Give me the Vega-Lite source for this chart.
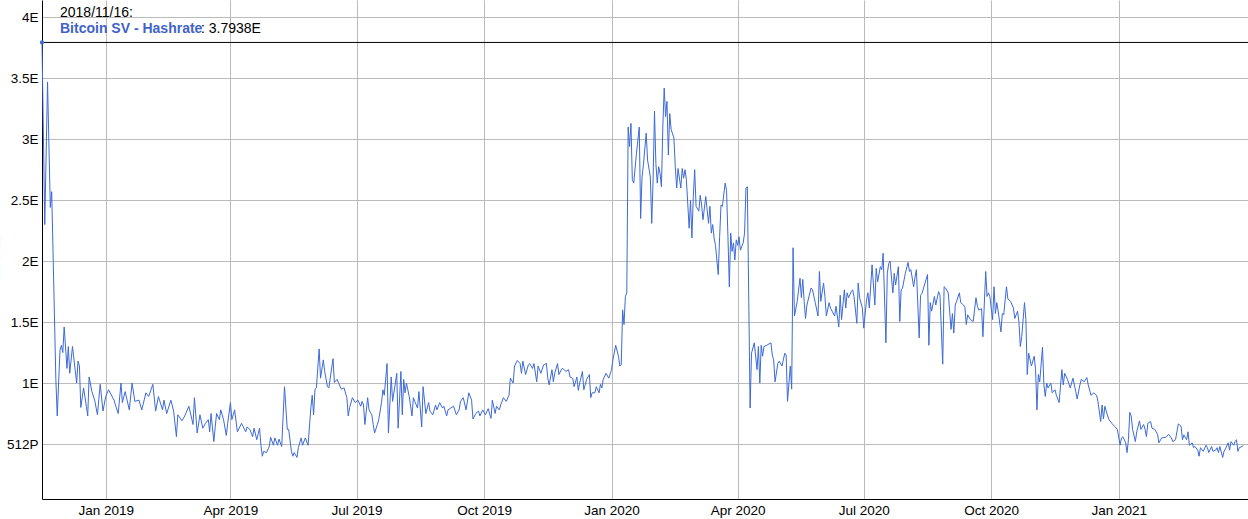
{
"$schema": "https://vega.github.io/schema/vega-lite/v6.json",
"width": 1206, "height": 499,
"autosize": {"type": "none"},
"padding": {"left": 42, "top": 0, "right": 0, "bottom": 20},
"background": "white",
"config": {"view": {"stroke": null}, "font": "Liberation Sans"},
"datasets": {
"series": [
{"date":"2018-11-16","hashrate":3.79},{"date":"2018-11-18","hashrate":2.30},{"date":"2018-11-20","hashrate":3.47},{"date":"2018-11-22","hashrate":2.44},{"date":"2018-11-23","hashrate":2.57},{"date":"2018-11-26","hashrate":1.03},{"date":"2018-11-27","hashrate":0.73},{"date":"2018-11-29","hashrate":1.27},{"date":"2018-11-30","hashrate":1.31},
{"date":"2018-12-01","hashrate":1.25},{"date":"2018-12-02","hashrate":1.46},{"date":"2018-12-04","hashrate":1.12},{"date":"2018-12-05","hashrate":1.30},{"date":"2018-12-06","hashrate":1.08},{"date":"2018-12-08","hashrate":1.30},{"date":"2018-12-11","hashrate":1.00},{"date":"2018-12-12","hashrate":1.18},{"date":"2018-12-13","hashrate":1.14},{"date":"2018-12-14","hashrate":0.80},{"date":"2018-12-16","hashrate":0.96},{"date":"2018-12-18","hashrate":0.81},{"date":"2018-12-19","hashrate":0.73},{"date":"2018-12-20","hashrate":1.05},{"date":"2018-12-22","hashrate":0.93},{"date":"2018-12-24","hashrate":0.86},{"date":"2018-12-26","hashrate":0.74},{"date":"2018-12-28","hashrate":0.99},{"date":"2018-12-30","hashrate":0.77},
{"date":"2019-01-01","hashrate":0.89},{"date":"2019-01-03","hashrate":0.945},{"date":"2019-01-07","hashrate":0.86},{"date":"2019-01-08","hashrate":0.82},{"date":"2019-01-10","hashrate":0.75},{"date":"2019-01-12","hashrate":1.00},{"date":"2019-01-13","hashrate":0.84},{"date":"2019-01-15","hashrate":0.93},{"date":"2019-01-18","hashrate":0.78},{"date":"2019-01-20","hashrate":1.00},{"date":"2019-01-22","hashrate":0.85},{"date":"2019-01-25","hashrate":0.86},{"date":"2019-01-27","hashrate":0.78},{"date":"2019-01-30","hashrate":0.92},
{"date":"2019-02-01","hashrate":0.89},{"date":"2019-02-04","hashrate":0.99},{"date":"2019-02-06","hashrate":0.77},{"date":"2019-02-08","hashrate":0.89},{"date":"2019-02-11","hashrate":0.78},{"date":"2019-02-12","hashrate":0.86},{"date":"2019-02-14","hashrate":0.75},{"date":"2019-02-17","hashrate":0.86},{"date":"2019-02-19","hashrate":0.77},{"date":"2019-02-21","hashrate":0.56},{"date":"2019-02-22","hashrate":0.74},{"date":"2019-02-25","hashrate":0.69},{"date":"2019-02-27","hashrate":0.73},
{"date":"2019-03-02","hashrate":0.81},{"date":"2019-03-05","hashrate":0.66},{"date":"2019-03-06","hashrate":0.88},{"date":"2019-03-08","hashrate":0.59},{"date":"2019-03-10","hashrate":0.74},{"date":"2019-03-12","hashrate":0.63},{"date":"2019-03-14","hashrate":0.67},{"date":"2019-03-16","hashrate":0.70},{"date":"2019-03-17","hashrate":0.60},{"date":"2019-03-18","hashrate":0.75},{"date":"2019-03-20","hashrate":0.52},{"date":"2019-03-21","hashrate":0.64},{"date":"2019-03-22","hashrate":0.75},{"date":"2019-03-24","hashrate":0.70},{"date":"2019-03-25","hashrate":0.78},{"date":"2019-03-27","hashrate":0.70},{"date":"2019-03-29","hashrate":0.57},{"date":"2019-03-30","hashrate":0.67},
{"date":"2019-04-01","hashrate":0.84},{"date":"2019-04-02","hashrate":0.70},{"date":"2019-04-04","hashrate":0.78},{"date":"2019-04-06","hashrate":0.60},{"date":"2019-04-09","hashrate":0.67},{"date":"2019-04-12","hashrate":0.60},{"date":"2019-04-13","hashrate":0.64},{"date":"2019-04-15","hashrate":0.62},{"date":"2019-04-17","hashrate":0.56},{"date":"2019-04-18","hashrate":0.63},{"date":"2019-04-20","hashrate":0.535},{"date":"2019-04-22","hashrate":0.63},{"date":"2019-04-23","hashrate":0.49},{"date":"2019-04-24","hashrate":0.40},{"date":"2019-04-25","hashrate":0.44},{"date":"2019-04-27","hashrate":0.43},{"date":"2019-04-29","hashrate":0.48},{"date":"2019-04-30","hashrate":0.555},
{"date":"2019-05-02","hashrate":0.49},{"date":"2019-05-03","hashrate":0.55},{"date":"2019-05-05","hashrate":0.49},{"date":"2019-05-06","hashrate":0.54},{"date":"2019-05-08","hashrate":0.48},{"date":"2019-05-10","hashrate":0.97},{"date":"2019-05-12","hashrate":0.62},{"date":"2019-05-13","hashrate":0.62},{"date":"2019-05-15","hashrate":0.44},{"date":"2019-05-16","hashrate":0.40},{"date":"2019-05-17","hashrate":0.43},{"date":"2019-05-19","hashrate":0.39},{"date":"2019-05-20","hashrate":0.47},{"date":"2019-05-22","hashrate":0.55},{"date":"2019-05-23","hashrate":0.49},{"date":"2019-05-25","hashrate":0.55},{"date":"2019-05-27","hashrate":0.49},{"date":"2019-05-29","hashrate":0.795},{"date":"2019-05-30","hashrate":0.90},{"date":"2019-05-31","hashrate":0.74},
{"date":"2019-06-01","hashrate":0.95},{"date":"2019-06-02","hashrate":0.96},{"date":"2019-06-04","hashrate":1.28},{"date":"2019-06-05","hashrate":1.04},{"date":"2019-06-07","hashrate":1.19},{"date":"2019-06-08","hashrate":1.095},{"date":"2019-06-10","hashrate":0.97},{"date":"2019-06-11","hashrate":0.96},{"date":"2019-06-14","hashrate":1.20},{"date":"2019-06-15","hashrate":1.005},{"date":"2019-06-17","hashrate":1.03},{"date":"2019-06-18","hashrate":1.00},{"date":"2019-06-20","hashrate":0.95},{"date":"2019-06-22","hashrate":0.96},{"date":"2019-06-24","hashrate":0.88},{"date":"2019-06-25","hashrate":0.73},{"date":"2019-06-26","hashrate":0.80},{"date":"2019-06-28","hashrate":0.88},{"date":"2019-06-30","hashrate":0.84},
{"date":"2019-07-02","hashrate":0.86},{"date":"2019-07-04","hashrate":0.81},{"date":"2019-07-05","hashrate":0.85},{"date":"2019-07-06","hashrate":0.82},{"date":"2019-07-07","hashrate":0.66},{"date":"2019-07-09","hashrate":0.88},{"date":"2019-07-10","hashrate":0.78},{"date":"2019-07-12","hashrate":0.74},{"date":"2019-07-13","hashrate":0.66},{"date":"2019-07-14","hashrate":0.59},{"date":"2019-07-16","hashrate":0.66},{"date":"2019-07-17","hashrate":0.70},{"date":"2019-07-19","hashrate":0.84},{"date":"2019-07-20","hashrate":0.945},{"date":"2019-07-21","hashrate":0.90},{"date":"2019-07-23","hashrate":1.16},{"date":"2019-07-24","hashrate":0.59},{"date":"2019-07-26","hashrate":1.05},{"date":"2019-07-27","hashrate":0.85},{"date":"2019-07-29","hashrate":1.00},{"date":"2019-07-30","hashrate":1.08},{"date":"2019-07-31","hashrate":0.63},
{"date":"2019-08-02","hashrate":1.095},{"date":"2019-08-03","hashrate":0.74},{"date":"2019-08-04","hashrate":1.03},{"date":"2019-08-05","hashrate":0.92},{"date":"2019-08-06","hashrate":1.00},{"date":"2019-08-08","hashrate":0.89},{"date":"2019-08-10","hashrate":0.73},{"date":"2019-08-11","hashrate":0.88},{"date":"2019-08-12","hashrate":0.85},{"date":"2019-08-14","hashrate":0.795},{"date":"2019-08-15","hashrate":0.93},{"date":"2019-08-17","hashrate":0.64},{"date":"2019-08-18","hashrate":0.97},{"date":"2019-08-20","hashrate":0.75},{"date":"2019-08-22","hashrate":0.84},{"date":"2019-08-23","hashrate":0.77},{"date":"2019-08-25","hashrate":0.74},{"date":"2019-08-27","hashrate":0.82},{"date":"2019-08-28","hashrate":0.78},{"date":"2019-08-30","hashrate":0.84},
{"date":"2019-09-01","hashrate":0.795},{"date":"2019-09-02","hashrate":0.81},{"date":"2019-09-04","hashrate":0.73},{"date":"2019-09-05","hashrate":0.78},{"date":"2019-09-07","hashrate":0.795},{"date":"2019-09-09","hashrate":0.81},{"date":"2019-09-11","hashrate":0.74},{"date":"2019-09-13","hashrate":0.78},{"date":"2019-09-14","hashrate":0.85},{"date":"2019-09-16","hashrate":0.88},{"date":"2019-09-18","hashrate":0.78},{"date":"2019-09-20","hashrate":0.92},{"date":"2019-09-22","hashrate":0.86},{"date":"2019-09-23","hashrate":0.705},{"date":"2019-09-25","hashrate":0.75},{"date":"2019-09-27","hashrate":0.77},{"date":"2019-09-28","hashrate":0.73},{"date":"2019-09-30","hashrate":0.78},
{"date":"2019-10-02","hashrate":0.74},{"date":"2019-10-04","hashrate":0.79},{"date":"2019-10-06","hashrate":0.71},{"date":"2019-10-07","hashrate":0.86},{"date":"2019-10-09","hashrate":0.75},{"date":"2019-10-10","hashrate":0.81},{"date":"2019-10-12","hashrate":0.78},{"date":"2019-10-13","hashrate":0.82},{"date":"2019-10-15","hashrate":0.88},{"date":"2019-10-17","hashrate":0.85},{"date":"2019-10-19","hashrate":0.90},{"date":"2019-10-20","hashrate":1.04},{"date":"2019-10-22","hashrate":1.00},{"date":"2019-10-23","hashrate":1.14},{"date":"2019-10-25","hashrate":1.185},{"date":"2019-10-27","hashrate":1.16},{"date":"2019-10-28","hashrate":1.08},{"date":"2019-10-29","hashrate":1.18},{"date":"2019-10-31","hashrate":1.07},
{"date":"2019-11-02","hashrate":1.15},{"date":"2019-11-03","hashrate":1.16},{"date":"2019-11-05","hashrate":1.12},{"date":"2019-11-06","hashrate":1.16},{"date":"2019-11-08","hashrate":1.01},{"date":"2019-11-09","hashrate":1.14},{"date":"2019-11-11","hashrate":1.08},{"date":"2019-11-13","hashrate":1.15},{"date":"2019-11-15","hashrate":1.16},{"date":"2019-11-16","hashrate":1.04},{"date":"2019-11-17","hashrate":0.985},{"date":"2019-11-19","hashrate":1.11},{"date":"2019-11-20","hashrate":1.01},{"date":"2019-11-21","hashrate":1.08},{"date":"2019-11-23","hashrate":1.16},{"date":"2019-11-24","hashrate":1.07},{"date":"2019-11-26","hashrate":1.115},{"date":"2019-11-27","hashrate":1.12},{"date":"2019-11-29","hashrate":1.095},
{"date":"2019-12-01","hashrate":1.11},{"date":"2019-12-02","hashrate":1.05},{"date":"2019-12-04","hashrate":1.04},{"date":"2019-12-05","hashrate":0.97},{"date":"2019-12-07","hashrate":1.05},{"date":"2019-12-08","hashrate":0.94},{"date":"2019-12-09","hashrate":1.00},{"date":"2019-12-11","hashrate":1.095},{"date":"2019-12-12","hashrate":0.945},{"date":"2019-12-13","hashrate":0.985},{"date":"2019-12-14","hashrate":1.03},{"date":"2019-12-16","hashrate":1.07},{"date":"2019-12-17","hashrate":0.88},{"date":"2019-12-18","hashrate":0.92},{"date":"2019-12-20","hashrate":0.92},{"date":"2019-12-21","hashrate":0.97},{"date":"2019-12-23","hashrate":0.92},{"date":"2019-12-24","hashrate":0.99},{"date":"2019-12-25","hashrate":0.96},{"date":"2019-12-26","hashrate":1.03},{"date":"2019-12-28","hashrate":1.08},{"date":"2019-12-30","hashrate":1.04},
{"date":"2020-01-01","hashrate":1.11},{"date":"2020-01-02","hashrate":1.19},{"date":"2020-01-04","hashrate":1.31},{"date":"2020-01-06","hashrate":1.22},{"date":"2020-01-07","hashrate":1.14},{"date":"2020-01-08","hashrate":1.15},{"date":"2020-01-09","hashrate":1.60},{"date":"2020-01-10","hashrate":1.48},{"date":"2020-01-11","hashrate":1.71},{"date":"2020-01-12","hashrate":1.74},{"date":"2020-01-13","hashrate":3.10},{"date":"2020-01-14","hashrate":2.94},{"date":"2020-01-15","hashrate":3.13},{"date":"2020-01-16","hashrate":2.67},{"date":"2020-01-17","hashrate":2.64},{"date":"2020-01-19","hashrate":2.885},{"date":"2020-01-21","hashrate":3.10},{"date":"2020-01-22","hashrate":2.35},{"date":"2020-01-23","hashrate":2.69},{"date":"2020-01-24","hashrate":2.79},{"date":"2020-01-26","hashrate":3.05},{"date":"2020-01-27","hashrate":2.83},{"date":"2020-01-29","hashrate":2.69},{"date":"2020-01-30","hashrate":2.31},{"date":"2020-01-31","hashrate":2.67},
{"date":"2020-02-01","hashrate":3.23},{"date":"2020-02-02","hashrate":2.80},{"date":"2020-02-03","hashrate":2.64},{"date":"2020-02-04","hashrate":2.775},{"date":"2020-02-05","hashrate":2.72},{"date":"2020-02-06","hashrate":2.61},{"date":"2020-02-07","hashrate":3.10},{"date":"2020-02-08","hashrate":3.42},{"date":"2020-02-09","hashrate":3.185},{"date":"2020-02-10","hashrate":3.31},{"date":"2020-02-11","hashrate":2.87},{"date":"2020-02-12","hashrate":3.21},{"date":"2020-02-13","hashrate":3.08},{"date":"2020-02-15","hashrate":3.01},{"date":"2020-02-16","hashrate":2.775},{"date":"2020-02-17","hashrate":2.60},{"date":"2020-02-18","hashrate":2.76},{"date":"2020-02-20","hashrate":2.60},{"date":"2020-02-21","hashrate":2.76},{"date":"2020-02-22","hashrate":2.68},{"date":"2020-02-23","hashrate":2.75},{"date":"2020-02-24","hashrate":2.67},{"date":"2020-02-26","hashrate":2.27},{"date":"2020-02-27","hashrate":2.50},{"date":"2020-02-28","hashrate":2.19},{"date":"2020-02-29","hashrate":2.53},
{"date":"2020-03-01","hashrate":2.75},{"date":"2020-03-02","hashrate":2.45},{"date":"2020-03-04","hashrate":2.41},{"date":"2020-03-05","hashrate":2.54},{"date":"2020-03-06","hashrate":2.46},{"date":"2020-03-07","hashrate":2.34},{"date":"2020-03-09","hashrate":2.53},{"date":"2020-03-10","hashrate":2.42},{"date":"2020-03-11","hashrate":2.31},{"date":"2020-03-12","hashrate":2.45},{"date":"2020-03-13","hashrate":2.23},{"date":"2020-03-14","hashrate":2.30},{"date":"2020-03-15","hashrate":2.19},{"date":"2020-03-16","hashrate":2.13},{"date":"2020-03-18","hashrate":1.89},{"date":"2020-03-19","hashrate":2.20},{"date":"2020-03-20","hashrate":2.46},{"date":"2020-03-21","hashrate":2.45},{"date":"2020-03-23","hashrate":2.64},{"date":"2020-03-24","hashrate":2.58},{"date":"2020-03-25","hashrate":2.20},{"date":"2020-03-26","hashrate":1.79},{"date":"2020-03-27","hashrate":2.23},{"date":"2020-03-28","hashrate":2.08},{"date":"2020-03-29","hashrate":2.15},{"date":"2020-03-30","hashrate":2.01},{"date":"2020-03-31","hashrate":2.175},
{"date":"2020-04-01","hashrate":2.13},{"date":"2020-04-02","hashrate":2.20},{"date":"2020-04-03","hashrate":2.09},{"date":"2020-04-05","hashrate":2.15},{"date":"2020-04-06","hashrate":2.23},{"date":"2020-04-07","hashrate":2.60},{"date":"2020-04-08","hashrate":2.61},{"date":"2020-04-10","hashrate":0.795},{"date":"2020-04-11","hashrate":1.245},{"date":"2020-04-13","hashrate":1.33},{"date":"2020-04-15","hashrate":1.11},{"date":"2020-04-16","hashrate":1.30},{"date":"2020-04-17","hashrate":1.00},{"date":"2020-04-18","hashrate":1.31},{"date":"2020-04-19","hashrate":1.22},{"date":"2020-04-20","hashrate":1.30},{"date":"2020-04-22","hashrate":1.31},{"date":"2020-04-25","hashrate":1.33},{"date":"2020-04-26","hashrate":1.23},{"date":"2020-04-27","hashrate":1.19},{"date":"2020-04-28","hashrate":1.01},{"date":"2020-04-30","hashrate":1.16},
{"date":"2020-05-01","hashrate":1.18},{"date":"2020-05-03","hashrate":1.14},{"date":"2020-05-05","hashrate":1.245},{"date":"2020-05-06","hashrate":1.23},{"date":"2020-05-07","hashrate":0.85},{"date":"2020-05-09","hashrate":1.14},{"date":"2020-05-10","hashrate":0.95},{"date":"2020-05-11","hashrate":2.11},{"date":"2020-05-12","hashrate":1.55},{"date":"2020-05-14","hashrate":1.67},{"date":"2020-05-16","hashrate":1.86},{"date":"2020-05-17","hashrate":1.70},{"date":"2020-05-18","hashrate":1.85},{"date":"2020-05-19","hashrate":1.67},{"date":"2020-05-20","hashrate":1.53},{"date":"2020-05-21","hashrate":1.64},{"date":"2020-05-24","hashrate":1.78},{"date":"2020-05-25","hashrate":1.765},{"date":"2020-05-27","hashrate":1.66},{"date":"2020-05-29","hashrate":1.55},{"date":"2020-05-30","hashrate":1.915},{"date":"2020-05-31","hashrate":1.67},
{"date":"2020-06-02","hashrate":1.82},{"date":"2020-06-03","hashrate":1.71},{"date":"2020-06-04","hashrate":1.55},{"date":"2020-06-06","hashrate":1.66},{"date":"2020-06-07","hashrate":1.615},{"date":"2020-06-10","hashrate":1.55},{"date":"2020-06-11","hashrate":1.63},{"date":"2020-06-13","hashrate":1.46},{"date":"2020-06-14","hashrate":1.72},{"date":"2020-06-15","hashrate":1.52},{"date":"2020-06-17","hashrate":1.765},{"date":"2020-06-18","hashrate":1.615},{"date":"2020-06-19","hashrate":1.74},{"date":"2020-06-20","hashrate":1.70},{"date":"2020-06-22","hashrate":1.75},{"date":"2020-06-23","hashrate":1.765},{"date":"2020-06-24","hashrate":1.71},{"date":"2020-06-26","hashrate":1.49},{"date":"2020-06-27","hashrate":1.82},{"date":"2020-06-28","hashrate":1.70},{"date":"2020-06-30","hashrate":1.615},
{"date":"2020-07-01","hashrate":1.45},{"date":"2020-07-03","hashrate":1.68},{"date":"2020-07-04","hashrate":1.74},{"date":"2020-07-05","hashrate":1.615},{"date":"2020-07-07","hashrate":1.97},{"date":"2020-07-09","hashrate":1.64},{"date":"2020-07-10","hashrate":1.94},{"date":"2020-07-11","hashrate":1.83},{"date":"2020-07-13","hashrate":1.955},{"date":"2020-07-14","hashrate":1.93},{"date":"2020-07-15","hashrate":2.065},{"date":"2020-07-17","hashrate":1.33},{"date":"2020-07-18","hashrate":1.90},{"date":"2020-07-19","hashrate":1.98},{"date":"2020-07-20","hashrate":2.00},{"date":"2020-07-22","hashrate":1.74},{"date":"2020-07-23","hashrate":1.90},{"date":"2020-07-24","hashrate":1.805},{"date":"2020-07-26","hashrate":1.955},{"date":"2020-07-27","hashrate":1.505},{"date":"2020-07-28","hashrate":1.765},{"date":"2020-07-29","hashrate":1.78},{"date":"2020-07-31","hashrate":1.90},
{"date":"2020-08-02","hashrate":1.99},{"date":"2020-08-03","hashrate":1.915},{"date":"2020-08-04","hashrate":1.93},{"date":"2020-08-06","hashrate":1.79},{"date":"2020-08-07","hashrate":1.87},{"date":"2020-08-08","hashrate":1.93},{"date":"2020-08-10","hashrate":1.37},{"date":"2020-08-11","hashrate":1.72},{"date":"2020-08-12","hashrate":1.735},{"date":"2020-08-15","hashrate":1.85},{"date":"2020-08-16","hashrate":1.89},{"date":"2020-08-17","hashrate":1.31},{"date":"2020-08-18","hashrate":1.66},{"date":"2020-08-19","hashrate":1.59},{"date":"2020-08-21","hashrate":1.71},{"date":"2020-08-22","hashrate":1.64},{"date":"2020-08-24","hashrate":1.75},{"date":"2020-08-25","hashrate":1.72},{"date":"2020-08-27","hashrate":1.155},{"date":"2020-08-28","hashrate":1.79},{"date":"2020-08-29","hashrate":1.78},{"date":"2020-08-31","hashrate":1.74},
{"date":"2020-09-02","hashrate":1.44},{"date":"2020-09-03","hashrate":1.57},{"date":"2020-09-04","hashrate":1.41},{"date":"2020-09-05","hashrate":1.64},{"date":"2020-09-06","hashrate":1.67},{"date":"2020-09-08","hashrate":1.74},{"date":"2020-09-09","hashrate":1.66},{"date":"2020-09-11","hashrate":1.64},{"date":"2020-09-12","hashrate":1.62},{"date":"2020-09-13","hashrate":1.48},{"date":"2020-09-14","hashrate":1.56},{"date":"2020-09-16","hashrate":1.52},{"date":"2020-09-18","hashrate":1.505},{"date":"2020-09-20","hashrate":1.70},{"date":"2020-09-21","hashrate":1.63},{"date":"2020-09-22","hashrate":1.60},{"date":"2020-09-24","hashrate":1.61},{"date":"2020-09-25","hashrate":1.38},{"date":"2020-09-27","hashrate":1.915},{"date":"2020-09-28","hashrate":1.71},{"date":"2020-09-29","hashrate":1.74},{"date":"2020-09-30","hashrate":1.71},
{"date":"2020-10-02","hashrate":1.52},{"date":"2020-10-03","hashrate":1.79},{"date":"2020-10-04","hashrate":1.57},{"date":"2020-10-05","hashrate":1.66},{"date":"2020-10-06","hashrate":1.59},{"date":"2020-10-08","hashrate":1.42},{"date":"2020-10-09","hashrate":1.57},{"date":"2020-10-10","hashrate":1.56},{"date":"2020-10-12","hashrate":1.79},{"date":"2020-10-13","hashrate":1.69},{"date":"2020-10-15","hashrate":1.67},{"date":"2020-10-17","hashrate":1.615},{"date":"2020-10-18","hashrate":1.53},{"date":"2020-10-20","hashrate":1.59},{"date":"2020-10-21","hashrate":1.50},{"date":"2020-10-22","hashrate":1.30},{"date":"2020-10-23","hashrate":1.38},{"date":"2020-10-25","hashrate":1.66},{"date":"2020-10-26","hashrate":1.52},{"date":"2020-10-27","hashrate":1.07},{"date":"2020-10-28","hashrate":1.245},{"date":"2020-10-30","hashrate":1.14},
{"date":"2020-11-01","hashrate":1.22},{"date":"2020-11-02","hashrate":1.11},{"date":"2020-11-03","hashrate":0.78},{"date":"2020-11-04","hashrate":1.07},{"date":"2020-11-05","hashrate":1.01},{"date":"2020-11-07","hashrate":1.295},{"date":"2020-11-08","hashrate":0.985},{"date":"2020-11-09","hashrate":0.89},{"date":"2020-11-10","hashrate":1.00},{"date":"2020-11-11","hashrate":0.96},{"date":"2020-11-13","hashrate":1.00},{"date":"2020-11-14","hashrate":0.92},{"date":"2020-11-16","hashrate":0.945},{"date":"2020-11-17","hashrate":0.90},{"date":"2020-11-19","hashrate":0.84},{"date":"2020-11-21","hashrate":1.11},{"date":"2020-11-22","hashrate":0.985},{"date":"2020-11-23","hashrate":1.08},{"date":"2020-11-25","hashrate":1.03},{"date":"2020-11-27","hashrate":0.96},{"date":"2020-11-29","hashrate":1.04},
{"date":"2020-12-01","hashrate":0.93},{"date":"2020-12-02","hashrate":0.87},{"date":"2020-12-04","hashrate":0.985},{"date":"2020-12-05","hashrate":1.03},{"date":"2020-12-07","hashrate":1.01},{"date":"2020-12-09","hashrate":1.045},{"date":"2020-12-10","hashrate":0.985},{"date":"2020-12-12","hashrate":0.90},{"date":"2020-12-14","hashrate":0.92},{"date":"2020-12-16","hashrate":0.90},{"date":"2020-12-17","hashrate":0.85},{"date":"2020-12-19","hashrate":0.685},{"date":"2020-12-20","hashrate":0.82},{"date":"2020-12-21","hashrate":0.705},{"date":"2020-12-22","hashrate":0.81},{"date":"2020-12-24","hashrate":0.73},{"date":"2020-12-25","hashrate":0.70},{"date":"2020-12-27","hashrate":0.67},{"date":"2020-12-29","hashrate":0.645},{"date":"2020-12-31","hashrate":0.62},
{"date":"2021-01-02","hashrate":0.49},{"date":"2021-01-03","hashrate":0.55},{"date":"2021-01-04","hashrate":0.56},{"date":"2021-01-06","hashrate":0.51},{"date":"2021-01-07","hashrate":0.43},{"date":"2021-01-08","hashrate":0.535},{"date":"2021-01-09","hashrate":0.76},{"date":"2021-01-10","hashrate":0.73},{"date":"2021-01-11","hashrate":0.62},{"date":"2021-01-13","hashrate":0.52},{"date":"2021-01-14","hashrate":0.60},{"date":"2021-01-16","hashrate":0.69},{"date":"2021-01-17","hashrate":0.62},{"date":"2021-01-19","hashrate":0.66},{"date":"2021-01-20","hashrate":0.62},{"date":"2021-01-21","hashrate":0.56},{"date":"2021-01-22","hashrate":0.67},{"date":"2021-01-24","hashrate":0.685},{"date":"2021-01-25","hashrate":0.63},{"date":"2021-01-27","hashrate":0.62},{"date":"2021-01-29","hashrate":0.58},{"date":"2021-01-30","hashrate":0.51},
{"date":"2021-02-01","hashrate":0.55},{"date":"2021-02-04","hashrate":0.555},{"date":"2021-02-06","hashrate":0.58},{"date":"2021-02-08","hashrate":0.55},{"date":"2021-02-09","hashrate":0.52},{"date":"2021-02-11","hashrate":0.535},{"date":"2021-02-13","hashrate":0.665},{"date":"2021-02-15","hashrate":0.645},{"date":"2021-02-16","hashrate":0.535},{"date":"2021-02-17","hashrate":0.575},{"date":"2021-02-19","hashrate":0.535},{"date":"2021-02-20","hashrate":0.60},{"date":"2021-02-21","hashrate":0.49},{"date":"2021-02-23","hashrate":0.51},{"date":"2021-02-24","hashrate":0.47},{"date":"2021-02-25","hashrate":0.48},{"date":"2021-02-27","hashrate":0.45},{"date":"2021-02-28","hashrate":0.40},
{"date":"2021-03-01","hashrate":0.47},{"date":"2021-03-03","hashrate":0.44},{"date":"2021-03-05","hashrate":0.49},{"date":"2021-03-06","hashrate":0.47},{"date":"2021-03-07","hashrate":0.43},{"date":"2021-03-09","hashrate":0.48},{"date":"2021-03-10","hashrate":0.44},{"date":"2021-03-12","hashrate":0.45},{"date":"2021-03-13","hashrate":0.47},{"date":"2021-03-14","hashrate":0.43},{"date":"2021-03-15","hashrate":0.48},{"date":"2021-03-17","hashrate":0.39},{"date":"2021-03-18","hashrate":0.44},{"date":"2021-03-19","hashrate":0.46},{"date":"2021-03-21","hashrate":0.51},{"date":"2021-03-22","hashrate":0.45},{"date":"2021-03-23","hashrate":0.52},{"date":"2021-03-25","hashrate":0.49},{"date":"2021-03-26","hashrate":0.52},{"date":"2021-03-27","hashrate":0.535},{"date":"2021-03-28","hashrate":0.44},{"date":"2021-03-29","hashrate":0.47},{"date":"2021-03-31","hashrate":0.48},{"date":"2021-04-01","hashrate":0.49}
],
"hover": [
{"date":"2018-11-16","hashrate":3.7938,"when":"2018/11/16:","name":"Bitcoin SV - Hashrate","shown":": 3.7938E"}
]
},
"encoding": {
"x": {"field":"date","type":"temporal",
 "scale":{"type":"utc","domain":[{"year":2018,"month":11,"date":16,"utc":true},{"year":2021,"month":4,"date":4,"hours":7,"utc":true}]},
 "axis":{"title":null,"format":"%b %Y","values":[
  {"year":2019,"month":1,"date":1,"utc":true},{"year":2019,"month":4,"date":1,"utc":true},{"year":2019,"month":7,"date":1,"utc":true},{"year":2019,"month":10,"date":1,"utc":true},
  {"year":2020,"month":1,"date":1,"utc":true},{"year":2020,"month":4,"date":1,"utc":true},{"year":2020,"month":7,"date":1,"utc":true},{"year":2020,"month":10,"date":1,"utc":true},
  {"year":2021,"month":1,"date":1,"utc":true}],
  "grid":true,"gridColor":"#bbbbbb","gridWidth":1,"ticks":false,"domainColor":"#000000","domainWidth":1,
  "labelFont":"Liberation Sans","labelFontSize":13.5,"labelColor":"#000000","labelPadding":4,"labelFlush":false,"labelOverlap":false}},
"y": {"field":"hashrate","type":"quantitative",
 "scale":{"domain":[0.049,4.142],"nice":false,"zero":false},
 "axis":{"values":[0.5,1,1.5,2,2.5,3,3.5,4],"labelExpr":"datum.value == 0.5 ? '512P' : datum.value + 'E'",
  "grid":true,"gridColor":"#bbbbbb","gridWidth":1,"ticks":false,"domainColor":"#000000","domainWidth":1,
  "labelFont":"Liberation Sans","labelFontSize":13.5,"labelColor":"#000000","labelPadding":4,"labelFlush":false,"labelOverlap":false,
  "title":"Hashrate","titleColor":"#c2f4f4","titleFont":"Liberation Sans","titleFontSize":14,"titleFontWeight":"normal","titleAngle":-90,"titleX":-40,"titleY":262,"titleAlign":"center","titleBaseline":"bottom"}}
},
"layer": [
{"data":{"name":"series"},"mark":{"type":"line","color":"#3d6ad6","strokeWidth":1,"interpolate":"linear"}},
{"data":{"name":"hover"},"mark":{"type":"rule","color":"#000000","strokeWidth":1},"encoding":{"x":null,"y":{"field":"hashrate","type":"quantitative"}}},
{"data":{"name":"hover"},"mark":{"type":"circle","color":"#3d6ad6","size":18,"opacity":1}},
{"data":{"name":"hover"},"mark":{"type":"text","align":"left","baseline":"alphabetic","dx":18,"dy":-25,"font":"Liberation Sans","fontSize":14,"color":"#000000"},"encoding":{"text":{"field":"when"}}},
{"data":{"name":"hover"},"mark":{"type":"text","align":"left","baseline":"alphabetic","dx":18,"dy":-9.5,"font":"Liberation Sans","fontSize":14,"fontWeight":"bold","color":"#4063c8"},"encoding":{"text":{"field":"name"}}},
{"data":{"name":"hover"},"mark":{"type":"text","align":"left","baseline":"alphabetic","dx":159,"dy":-9.5,"font":"Liberation Sans","fontSize":14,"color":"#000000"},"encoding":{"text":{"field":"shown"}}}
]
}
